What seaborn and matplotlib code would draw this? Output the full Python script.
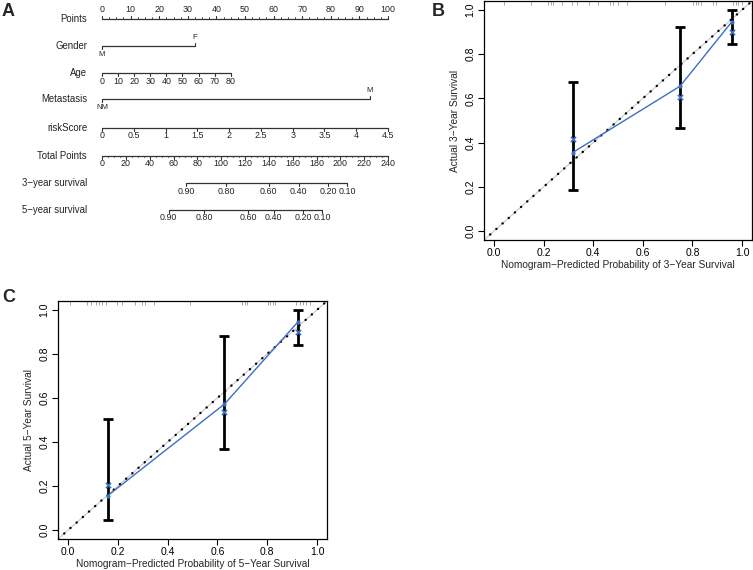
import numpy as np
import pandas as pd
import seaborn as sns
import matplotlib.pyplot as plt

sns.set_style("white")
plt.rcParams['font.family'] = ['Liberation Sans', 'DejaVu Sans']
MINUS = "\u2212"

# ---- nomogram (panel A): value -> points ----
points_ticks = list(range(0, 101, 10))
gender_levels = ["M", "F"]
gender_points = [0.0, 32.5]
age_ticks = [0, 10, 20, 30, 40, 50, 60, 70, 80]
age_points_at_80 = 45.0
meta_levels = ["NM", "M"]
meta_points = [0.0, 93.7]
risk_ticks = [0, 0.5, 1, 1.5, 2, 2.5, 3, 3.5, 4, 4.5]
risk_points_at_max = 100.0
total_ticks = list(range(0, 241, 20))
total_max = 240
surv_labels = ["0.90", "0.80", "0.60", "0.40", "0.20", "0.10"]
surv3_total = [70.5, 104, 140, 165, 190, 205.6]
surv5_total = [56, 85.6, 122.5, 144, 168.6, 185]

# ---- calibration (panels B, C) ----
pred3 = [0.317, 0.75, 0.958]
obs3 = [0.355, 0.655, 0.945]
corr3 = [0.415, 0.605, 0.90]
lo3 = [0.185, 0.465, 0.845]
hi3 = [0.672, 0.924, 1.0]
rug3 = [0.04, 0.148, 0.219, 0.228, 0.239, 0.273, 0.313, 0.333, 0.384, 0.421,
        0.468, 0.481, 0.501, 0.537, 0.69, 0.804, 0.815, 0.824, 0.833, 0.884,
        0.895, 0.965, 0.976, 0.985, 0.999]

pred5 = [0.16, 0.628, 0.924]
obs5 = [0.157, 0.572, 0.946]
corr5 = [0.207, 0.536, 0.90]
lo5 = [0.045, 0.37, 0.842]
hi5 = [0.505, 0.883, 1.0]
rug5 = [0.01, 0.077, 0.091, 0.111, 0.124, 0.137, 0.151, 0.197, 0.217, 0.271,
        0.297, 0.311, 0.344, 0.491, 0.697, 0.711, 0.717, 0.804, 0.811, 0.824,
        0.831, 0.917, 0.931, 0.944, 0.957, 0.971]

W, H = 753, 570
fig = plt.figure(figsize=(W / 100, H / 100), dpi=100)

# ---------------- panel A ----------------
pxA_w, pxA_h = 400, 235
axA = fig.add_axes([0, 1 - pxA_h / H, pxA_w / W, pxA_h / H])
ppu = 2.86  # pixels per point
axA.set_xlim(-102 / ppu, (pxA_w - 102) / ppu)
axA.set_ylim(pxA_h, 0)
axA.axis("off")

lab_x = -15 / ppu
name_fs = 6.9
tick_fs = 6.4
lc = "#333333"
tc = "#222222"


def scale_row(y, pos, labels, name, up=False, minor=None, off=8):
    axA.plot([pos[0], pos[-1]], [y, y], color=lc, lw=0.9)
    d = -3 if up else 3
    for p in pos:
        axA.plot([p, p], [y, y + d], color=lc, lw=0.8)
    if minor is not None:
        for p in minor:
            axA.plot([p, p], [y, y + d * 0.5], color=lc, lw=0.6)
    ty = y - off if up else y + off
    for p, t in zip(pos, labels):
        axA.text(p, ty, t, ha="center", va="center", fontsize=tick_fs, color=tc)
    axA.text(lab_x, y, name, ha="right", va="center", fontsize=name_fs, color=tc)


scale_row(19, points_ticks, [str(v) for v in points_ticks], "Points", up=True,
          minor=list(np.arange(0, 100.1, 2.5)), off=10)


def cat_row(y, pos, levels, name):
    axA.plot([pos[0], pos[-1]], [y, y], color=lc, lw=0.9)
    axA.plot([pos[0], pos[0]], [y, y + 3], color=lc, lw=0.8)
    axA.plot([pos[-1], pos[-1]], [y, y - 3], color=lc, lw=0.8)
    axA.text(pos[0], y + 8.5, levels[0], ha="center", va="center", fontsize=tick_fs - 0.8, color=tc)
    axA.text(pos[-1], y - 8.5, levels[-1], ha="center", va="center", fontsize=tick_fs - 0.8, color=tc)
    axA.text(lab_x, y, name, ha="right", va="center", fontsize=name_fs, color=tc)


cat_row(46, gender_points, gender_levels, "Gender")
scale_row(73, [a * age_points_at_80 / 80 for a in age_ticks], [str(a) for a in age_ticks], "Age")
cat_row(99, meta_points, meta_levels, "Metastasis")
scale_row(128, [r * risk_points_at_max / max(risk_ticks) for r in risk_ticks],
          ["%g" % r for r in risk_ticks], "riskScore")
scale_row(156, [t * 100 / total_max for t in total_ticks], [str(t) for t in total_ticks],
          "Total Points", minor=[t * 100 / total_max for t in range(0, 241, 5)])
scale_row(183, [t * 100 / total_max for t in surv3_total], surv_labels, "3" + MINUS + "year survival")
scale_row(210, [t * 100 / total_max for t in surv5_total], surv_labels, "5" + MINUS + "year survival")

# ---------------- panels B, C ----------------
blue = "#3a6fc4"


def calib(rect, pred, obs, corr, lo, hi, rug, yr):
    l, t, r, b = rect
    ax = fig.add_axes([l / W, 1 - b / H, (r - l) / W, (b - t) / H])
    ax.plot([-0.04, 1.04], [-0.04, 1.04], color="#c8c8c8", lw=0.8, zorder=1)
    ax.plot([-0.04, 1.04], [-0.04, 1.04], color="black", lw=1.7,
            linestyle=(0, (0.1, 3.4)), dash_capstyle="round", zorder=2)
    df = pd.DataFrame({"pred": pred, "obs": obs, "corr": corr})
    ax.errorbar(pred, obs, yerr=[np.array(obs) - np.array(lo), np.array(hi) - np.array(obs)],
                fmt="none", ecolor="black", elinewidth=2, capsize=3.5, capthick=2, zorder=3)
    sns.lineplot(data=df, x="pred", y="obs", color=blue, lw=1, marker="o", markersize=3,
                 markeredgewidth=0, ax=ax, zorder=4)
    sns.scatterplot(data=df, x="pred", y="corr", color=blue, marker="x", s=14,
                    linewidth=1.2, ax=ax, zorder=5)
    ax.vlines(rug, 0.982, 1.0, transform=ax.get_xaxis_transform(), color="#999999", lw=0.6)
    ax.set_xlim(-0.04, 1.04)
    ax.set_ylim(-0.04, 1.04)
    ticks = [0, 0.2, 0.4, 0.6, 0.8, 1.0]
    ax.set_xticks(ticks)
    ax.set_yticks(ticks)
    ax.set_xticklabels(["%.1f" % v for v in ticks])
    ax.set_yticklabels(["%.1f" % v for v in ticks], rotation=90, va="center")
    ax.tick_params(direction="out", length=4, width=0.8, labelsize=7.5, pad=2,
                   bottom=True, left=True, colors="black")
    for s in ax.spines.values():
        s.set_visible(True)
        s.set_color("black")
        s.set_linewidth(0.9)
    ax.set_xlabel("Nomogram" + MINUS + "Predicted Probability of " + yr + MINUS + "Year Survival",
                  fontsize=7.3, labelpad=1)
    ax.set_ylabel("Actual " + yr + MINUS + "Year Survival", fontsize=7.3, labelpad=4)
    return ax


calib((484, 1, 752, 240), pred3, obs3, corr3, lo3, hi3, rug3, "3")
calib((58, 301, 327, 539), pred5, obs5, corr5, lo5, hi5, rug5, "5")

fig.text(2 / W, 1 - 12 / H, "A", fontsize=13, fontweight="bold", va="center")
fig.text(432 / W, 1 - 12 / H, "B", fontsize=13, fontweight="bold", va="center")
fig.text(2 / W, 1 - 297 / H, "C", fontsize=13, fontweight="bold", va="center")

fig.savefig("out.png", dpi=100)
